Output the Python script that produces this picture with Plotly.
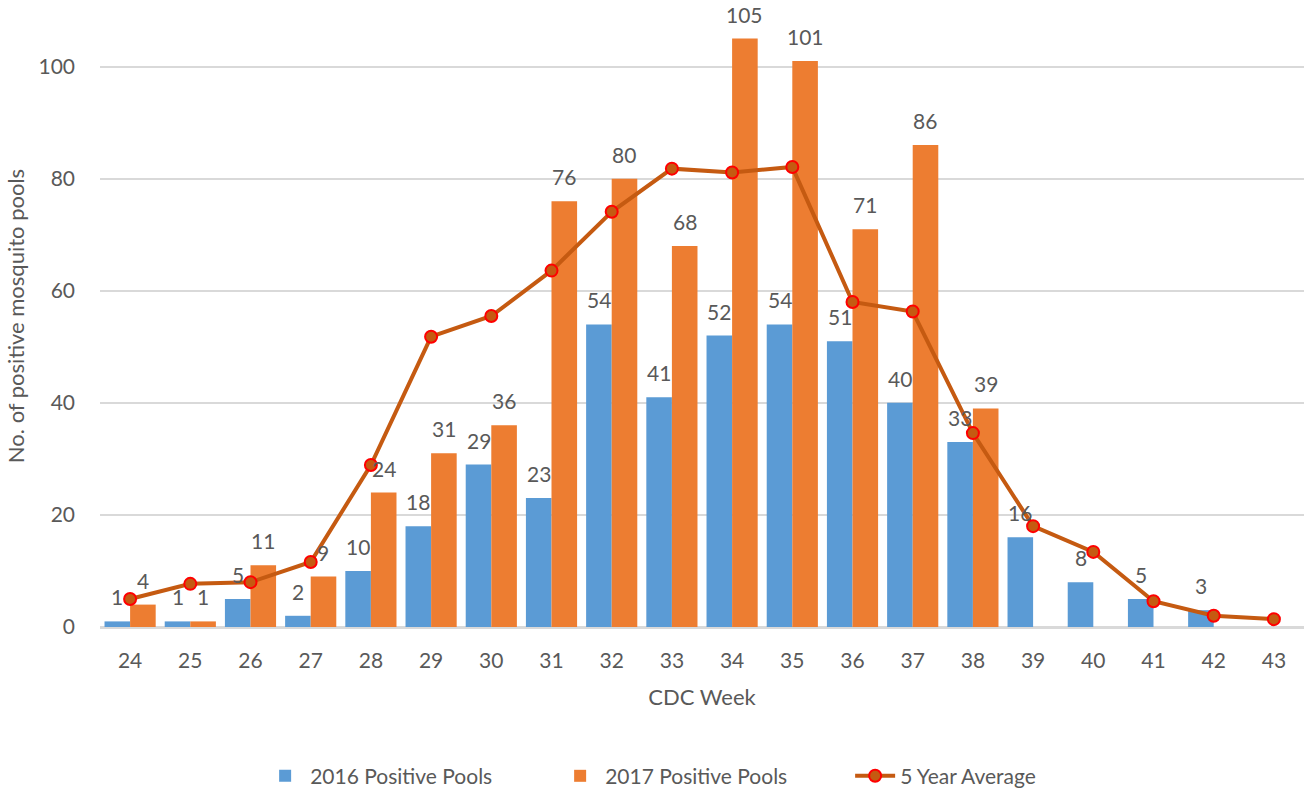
import plotly.graph_objects as go

weeks = [str(w) for w in range(24, 44)]
pools_2016 = [1, 1, 5, 2, 10, 18, 29, 23, 54, 41, 52, 54, 51, 40, 33, 16, 8, 5, 3, None]
pools_2017 = [4, 1, 11, 9, 24, 31, 36, 76, 80, 68, 105, 101, 71, 86, 39, None, None, None, None, None]
five_year_avg = [5.0, 7.7, 8.0, 11.6, 28.9, 51.8, 55.5, 63.6, 74.1, 81.8, 81.1, 82.1,
                 58.0, 56.3, 34.6, 18.0, 13.4, 4.6, 2.0, 1.4]

FONT = "Lato, Carlito, Calibri, sans-serif"
TXT = "#595959"
FS = 21

W, H = 1307, 792
ML, MR, MT, MB = 100, 3, 5, 165
BARGAP = 0.15
cat_px = (W - ML - MR) / len(weeks)
bar_shift = cat_px * (1 - BARGAP) / 4  # centre offset of each bar in its group

fig = go.Figure()
fig.add_trace(go.Bar(x=weeks, y=pools_2016, name="2016 Positive Pools",
                     marker=dict(color="#5B9BD5", line=dict(width=0))))
fig.add_trace(go.Bar(x=weeks, y=pools_2017, name="2017 Positive Pools",
                     marker=dict(color="#ED7D31", line=dict(width=0))))
fig.add_trace(go.Scatter(
    x=weeks, y=five_year_avg, name="5 Year Average", mode="lines+markers",
    line=dict(color="#C55A11", width=4),
    marker=dict(color="#C55A11", size=12, line=dict(color="#FF0000", width=2)),
    cliponaxis=False,
))

annotations = []
for series, shift in ((pools_2016, -bar_shift), (pools_2017, bar_shift)):
    for idx, v in enumerate(series):
        if v is None:
            continue
        annotations.append(dict(
            x=idx, y=v, xref="x", yref="y", text=str(v), showarrow=False,
            xshift=shift, yshift=10, yanchor="bottom", xanchor="center",
            font=dict(size=FS, color=TXT, family=FONT),
        ))

fig.update_layout(
    width=W, height=H,
    paper_bgcolor="white", plot_bgcolor="white",
    margin=dict(l=ML, r=MR, t=MT, b=MB),
    barmode="group", bargap=BARGAP, bargroupgap=0,
    font=dict(family=FONT, color=TXT, size=FS),
    annotations=annotations,
    showlegend=True,
    legend=dict(orientation="h", x=0.133, xanchor="left",
                yref="container", y=0.02, yanchor="middle",
                font=dict(size=FS, color=TXT, family=FONT), traceorder="normal",
                entrywidth=240, entrywidthmode="pixels", itemwidth=40),
    xaxis=dict(
        type="category", range=[-0.5, len(weeks) - 0.5],
        showgrid=False, ticks="", automargin=False,
        tickfont=dict(size=FS, color=TXT, family=FONT), ticklabelstandoff=14,
        title=dict(text="CDC Week", font=dict(size=22, color=TXT, family=FONT), standoff=19),
        showline=True, linecolor="#D9D9D9", linewidth=1.5,
    ),
    yaxis=dict(
        range=[0, 111], tickvals=[0, 20, 40, 60, 80, 100], automargin=False,
        showgrid=True, gridcolor="#D9D9D9", gridwidth=1.5,
        zeroline=True, zerolinecolor="#D9D9D9", zerolinewidth=1.5,
        tickfont=dict(size=FS, color=TXT, family=FONT), ticks="", ticklabelstandoff=24,
        title=dict(text="No. of positive mosquito pools", font=dict(size=22, color=TXT, family=FONT),
                   standoff=7),
    ),
)

fig.write_html("out.html", config={"displayModeBar": False},
               post_script="document.body.style.margin='0';")
